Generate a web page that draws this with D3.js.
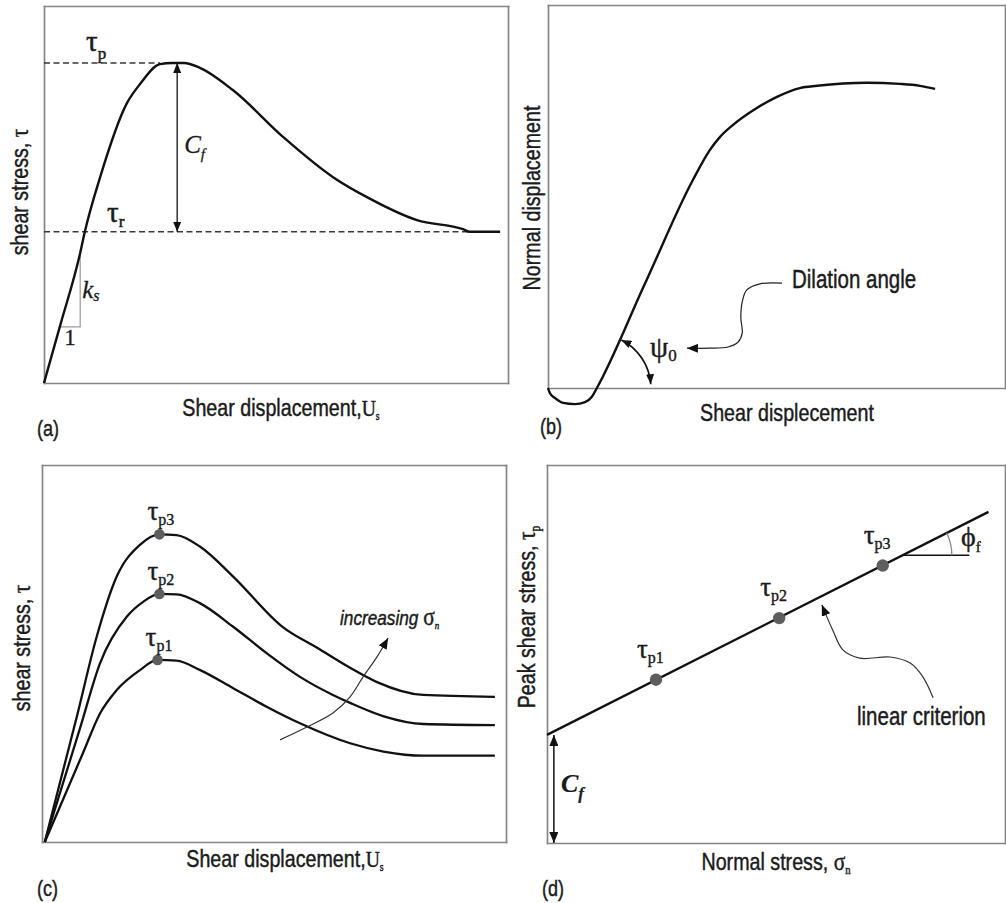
<!DOCTYPE html>
<html>
<head>
<meta charset="utf-8">
<script src="https://cdn.jsdelivr.net/npm/d3@7/dist/d3.min.js"></script>
<style>
  html, body { margin: 0; padding: 0; background: #fff; }
  svg { display: block; }
</style>
</head>
<body>
<svg id="fig" width="1006" height="903"></svg>
<script>
// ---------------------------------------------------------------
// Data (schematic units, 0–100 on both axes of every panel)
// ---------------------------------------------------------------

// (a) shear stress vs shear displacement: [displacement, stress]
const shearCurveA = [[0,0],[3.4,14.9],[7.8,34.5],[8.8,40.1],[12.1,54.6],[17.9,74.3],[20.7,79.3],
  [25.0,84.6],[27.6,84.9],[30.2,84.9],[33.6,83.6],[40.7,77.7],[51.5,65.3],[62.3,54.6],[69.6,49.3],
  [80.4,43.2],[90.3,40.8],[91.8,40.1],[98.3,40.1]];

// (b) normal displacement vs shear displacement
const dilationCurve = [[0,0],[0.4,-1.3],[1.5,-2.6],[3.3,-3.9],[5.9,-4.2],[8.1,-3.7],[9.6,-2.3],
  [10.7,0],[21.2,27.2],[31.7,54.3],[35.4,62.1],[37.6,65.5],[40.5,68.7],[45.7,73.1],[50.1,76.0],
  [55.1,78.3],[58.9,78.9],[69.8,79.7],[77.0,79.4],[81.4,78.9],[84.7,78.1]];

// (c) shear stress curves for three normal stress levels
const stressLow  = [[0.6,0],[8.9,23.8],[12.5,34.1],[16.1,40.3],[21.1,45.6],[24.9,48.3],[29.0,48.1],
  [34.1,45.6],[41.2,40.8],[48.4,35.9],[55.6,31.5],[66.4,26.2],[73.6,24.0],[82.2,22.9],[97.6,22.9]];
const stressMid  = [[0.6,0],[8.2,30.2],[12.5,47.4],[18.3,59.8],[21.8,63.7],[25.3,65.8],[29.0,65.7],
  [34.1,63.3],[41.2,57.1],[48.4,50.1],[55.6,43.8],[62.7,39.0],[66.4,36.9],[73.5,33.4],[82.2,31.3],[97.6,31.0]];
const stressHigh = [[0.6,0],[7.5,33.2],[11.8,54.5],[16.1,70.4],[21.1,78.8],[25.3,81.6],[29.0,81.4],
  [34.1,78.3],[41.2,70.4],[51.9,57.0],[59.3,51.5],[66.4,46.2],[72.2,42.4],[82.1,39.0],[97.6,38.5]];
const peakNames = ["p1", "p2", "p3"];

// (d) peak shear stress vs normal stress
const normalStress = [23.8, 50.7, 73.3];
const peakShear    = [43.2, 59.5, 73.4];
const criterion    = [[0, 28.6], [96.4, 87.6]];

// ---------------------------------------------------------------
// Fonts
// ---------------------------------------------------------------
function hasFont(name) {
  const c = document.createElement("canvas").getContext("2d");
  const probe = "mmmmmmmmmmlli WWW 0123 abcdefg";
  c.font = "40px monospace";
  const w0 = c.measureText(probe).width;
  c.font = `40px "${name}", monospace`;
  const w1 = c.measureText(probe).width;
  return Math.abs(w0 - w1) > 0.5;
}
const NARROW = hasFont("Liberation Sans Narrow");
const SANS = NARROW ? '"Liberation Sans Narrow", "Arial Narrow", sans-serif'
                    : '"Liberation Sans", Arial, sans-serif';
const SX = NARROW ? 1 : 0.82;          // horizontal squeeze when no narrow face exists
const SERIF = '"Liberation Serif", "Times New Roman", serif';
const INK = "#1b1b1b";
const FRAME = "#858585";

const svg = d3.select("#fig");
const defs = svg.append("defs");

function marker(id, len, wid, color) {
  defs.append("marker").attr("id", id)
    .attr("viewBox", `0 0 ${len} ${wid}`)
    .attr("refX", len).attr("refY", wid / 2)
    .attr("markerWidth", len).attr("markerHeight", wid)
    .attr("markerUnits", "userSpaceOnUse")
    .attr("orient", "auto-start-reverse")
    .append("path").attr("d", `M0,0L${len},${wid / 2}L0,${wid}Z`).attr("fill", color);
}
marker("head", 11, 9, "#111");
marker("headSmall", 10, 8, "#111");

function label(parent, x, y, parts, o = {}) {
  const sx = o.squeeze === false ? 1 : SX;
  const t = parent.append("text")
    .attr("text-anchor", o.anchor || "start")
    .attr("fill", o.fill || INK)
    .attr("stroke", o.fill || INK)
    .attr("stroke-width", o.weight != null ? o.weight : 0.45)
    .attr("transform", `translate(${x},${y})` + (o.rotate ? ` rotate(${o.rotate})` : "") +
                       (sx !== 1 ? ` scale(${sx},1)` : ""));
  for (const p of parts) {
    const s = t.append("tspan").text(p.t)
      .attr("font-family", p.serif ? SERIF : SANS)
      .attr("font-size", p.size || 24);
    if (p.italic) s.attr("font-style", "italic");
    if (p.bold) s.attr("font-weight", "bold");
    if (p.dy) s.attr("dy", p.dy);
    if (p.dx) s.attr("dx", p.dx);
  }
  return t;
}

function makePanel(box) {
  const x = d3.scaleLinear().domain([0, 100]).range([box.left, box.right]);
  const y = d3.scaleLinear().domain([0, 100]).range([box.bottom, box.top]);
  const g = svg.append("g");
  return { x, y, g, box };
}

// plain box frame built from four tick-less axes
function frame(p) {
  const { x, y, g, box } = p;
  const axes = [
    [d3.axisBottom(x), `translate(0,${box.bottom})`],
    [d3.axisTop(x),    `translate(0,${box.top})`],
    [d3.axisLeft(y),   `translate(${box.left},0)`],
    [d3.axisRight(y),  `translate(${box.right},0)`]
  ];
  for (const [ax, tr] of axes) {
    g.append("g").attr("transform", tr).attr("color", FRAME)
      .call(ax.tickValues([]).tickSizeOuter(0))
      .select(".domain").attr("stroke-width", 1.7).attr("stroke-linecap", "square");
  }
}

function line(p, curve) {
  return d3.line().x(d => p.x(d[0])).y(d => p.y(d[1])).curve(curve || d3.curveMonotoneX);
}
function curvePath(p, data, w) {
  p.g.append("path").datum(data).attr("d", line(p)).attr("fill", "none")
    .attr("stroke", "#111").attr("stroke-width", w || 2.4).attr("stroke-linejoin", "round");
}

// ---------------------------------------------------------------
// (a)
// ---------------------------------------------------------------
const A = makePanel({ left: 44, top: 6, right: 508, bottom: 383 });
frame(A);
const peakA = d3.greatest(shearCurveA, d => d[1]);
const iPeakA = shearCurveA.indexOf(peakA);
const resA = shearCurveA[shearCurveA.length - 1][1];
const peakReach = shearCurveA.find(d => d[1] >= peakA[1] - 0.5);
const resReach = shearCurveA.find((d, i) => i > iPeakA && d[1] <= resA);

A.g.selectAll("line.ref").data([[peakA[1], peakReach[0]], [resA, resReach[0]]]).join("line")
  .attr("x1", A.x(0)).attr("x2", d => A.x(d[1]))
  .attr("y1", d => A.y(d[0])).attr("y2", d => A.y(d[0]))
  .attr("stroke", "#3a3a3a").attr("stroke-width", 1.4).attr("stroke-dasharray", "6,3.5");

// stiffness triangle under the initial branch
const run = [shearCurveA[1], shearCurveA[2]];
A.g.append("path")
  .attr("d", `M${A.x(run[0][0])},${A.y(run[0][1])}H${A.x(run[1][0])}V${A.y(run[1][1])}`)
  .attr("fill", "none").attr("stroke", "#9a9a9a").attr("stroke-width", 1.2);

curvePath(A, shearCurveA);

const cfX = 28.7;
A.g.append("line")
  .attr("x1", A.x(cfX)).attr("x2", A.x(cfX))
  .attr("y1", A.y(peakA[1])).attr("y2", A.y(resA))
  .attr("stroke", "#111").attr("stroke-width", 1.3)
  .attr("marker-start", "url(#headSmall)").attr("marker-end", "url(#headSmall)");

label(svg, 86, A.y(peakA[1]) - 12, [{ t: "τ", serif: true, size: 29 }, { t: "p", serif: true, size: 17, dy: 8 }], { squeeze: false, weight: 0.5 });
label(svg, 107, A.y(resA) - 10, [{ t: "τ", serif: true, size: 29 }, { t: "r", serif: true, size: 17, dy: 5 }], { squeeze: false, weight: 0.5 });
label(svg, A.x(cfX) + 7, (A.y(peakA[1]) + A.y(resA)) / 2 + 6,
  [{ t: "C", serif: true, italic: true, size: 25 }, { t: "f", serif: true, italic: true, size: 15, dy: 6 }], { squeeze: false, weight: 0.3 });
label(svg, A.x(run[1][0]) + 2, 298,
  [{ t: "k", serif: true, italic: true, size: 25 }, { t: "s", serif: true, italic: true, size: 16, dy: 3 }], { squeeze: false, weight: 0.3 });
label(svg, (A.x(run[0][0]) + A.x(run[1][0])) / 2, 345, [{ t: "1", serif: true, size: 23 }], { anchor: "middle", squeeze: false, weight: 0.3 });

label(svg, 28, 192, [{ t: "shear stress, " }, { t: "τ", serif: true, size: 26 }], { anchor: "middle", rotate: -90 });
label(svg, 281, 416, [{ t: "Shear displacement," }, { t: "U", serif: true, size: 24 }, { t: "s", serif: true, size: 12, dy: 4 }], { anchor: "middle" });
label(svg, 37, 436, [{ t: "(a)", size: 22 }]);

// ---------------------------------------------------------------
// (b)
// ---------------------------------------------------------------
const B = makePanel({ left: 548, top: 5, right: 1005, bottom: 388 });
frame(B);
curvePath(B, dilationCurve);

const cross = dilationCurve.find((d, i) => i > 0 && d[1] === 0);
const arc = d3.path();
arc.arc(B.x(cross[0]), B.y(cross[1]), 54, -63 * Math.PI / 180, -4 * Math.PI / 180, false);
B.g.append("path").attr("d", arc.toString()).attr("fill", "none")
  .attr("stroke", "#111").attr("stroke-width", 1.7)
  .attr("marker-start", "url(#headSmall)").attr("marker-end", "url(#headSmall)");

const dilationPointer = [[51.2,27.4],[46.4,27.2],[43.5,25.6],[42.5,22.5],[42.2,18.3],[42.5,14.4],
  [41.6,12.0],[39.4,10.7],[35.4,10.4],[30.4,10.4]];
B.g.append("path").datum(dilationPointer).attr("d", line(B, d3.curveCatmullRom))
  .attr("fill", "none").attr("stroke", "#222").attr("stroke-width", 1.2)
  .attr("marker-end", "url(#head)");

label(svg, 650, 357, [{ t: "ψ", serif: true, size: 29 }, { t: "0", serif: true, size: 17, dy: 4 }], { squeeze: false, weight: 0.4 });
label(svg, 792, 288, [{ t: "Dilation angle", size: 25 }]);

label(svg, 540, 198, [{ t: "Normal displacement" }], { anchor: "middle", rotate: -90 });
label(svg, 787, 421, [{ t: "Shear displecement" }], { anchor: "middle" });
label(svg, 540, 434, [{ t: "(b)", size: 22 }]);

// ---------------------------------------------------------------
// (c)
// ---------------------------------------------------------------
const C = makePanel({ left: 42, top: 465, right: 506, bottom: 842 });
frame(C);
const familyC = [stressLow, stressMid, stressHigh];
familyC.forEach(s => curvePath(C, s, 2.3));

const increasingArrow = [[51.3,27.1],[57.1,30.5],[62.7,34.2],[66.4,38.5],[69.2,43.8],[72.2,49.1],[74.6,54.1]];
C.g.append("path").datum(increasingArrow).attr("d", line(C, d3.curveCatmullRom))
  .attr("fill", "none").attr("stroke", "#333").attr("stroke-width", 1.2)
  .attr("marker-end", "url(#head)");

const peaksC = familyC.map(s => d3.greatest(s, d => d[1]));
C.g.selectAll("circle").data(peaksC).join("circle")
  .attr("cx", d => C.x(d[0])).attr("cy", d => C.y(d[1])).attr("r", 5.3).attr("fill", "#5e5e5e");
peaksC.forEach((d, i) => {
  label(svg, C.x(d[0]) - 12, C.y(d[1]) - 14,
    [{ t: "τ", serif: true, size: 27 }, { t: peakNames[i], serif: true, size: 16, dy: 5 }], { squeeze: false, weight: 0.4 });
});

label(svg, 340, 625, [{ t: "increasing ", italic: true, size: 21 }, { t: "σ", serif: true, size: 26 },
  { t: "n", serif: true, italic: true, size: 11, dy: 4 }]);

label(svg, 30, 648, [{ t: "shear stress, " }, { t: "τ", serif: true, size: 26 }], { anchor: "middle", rotate: -90 });
label(svg, 285, 867, [{ t: "Shear displacement," }, { t: "U", serif: true, size: 24 }, { t: "s", serif: true, size: 12, dy: 4 }], { anchor: "middle" });
label(svg, 37, 896, [{ t: "(c)", size: 22 }]);

// ---------------------------------------------------------------
// (d)
// ---------------------------------------------------------------
const D = makePanel({ left: 547, top: 465, right: 1005, bottom: 843 });
frame(D);
D.g.append("path").datum(criterion).attr("d", line(D, d3.curveLinear))
  .attr("fill", "none").attr("stroke", "#111").attr("stroke-width", 2.3);

// friction angle construction
const onLine = d3.scaleLinear().domain([criterion[0][0], criterion[1][0]]).range([criterion[0][1], criterion[1][1]]);
const phiX = 77.7, phiY = onLine(phiX);
const phiLen = 14.5;
D.g.append("line")
  .attr("x1", D.x(phiX)).attr("x2", D.x(phiX + phiLen))
  .attr("y1", D.y(phiY)).attr("y2", D.y(phiY))
  .attr("stroke", "#111").attr("stroke-width", 1.5);
const lineAngle = Math.atan2(D.y(criterion[1][1]) - D.y(criterion[0][1]), D.x(criterion[1][0]) - D.x(criterion[0][0]));
const phiArc = d3.path();
phiArc.arc(D.x(phiX), D.y(phiY), 49, lineAngle, 0, false);
D.g.append("path").attr("d", phiArc.toString()).attr("fill", "none")
  .attr("stroke", "#888").attr("stroke-width", 1.3);
label(svg, 961, 546, [{ t: "ϕ", serif: true, size: 28 }, { t: "f", serif: true, size: 15, dy: 6 }], { squeeze: false, weight: 0.4 });

// cohesion arrow
const cfXd = 1.5;
D.g.append("line")
  .attr("x1", D.x(cfXd)).attr("x2", D.x(cfXd))
  .attr("y1", D.y(criterion[0][1])).attr("y2", D.y(0))
  .attr("stroke", "#111").attr("stroke-width", 1.5)
  .attr("marker-start", "url(#head)").attr("marker-end", "url(#head)");
label(svg, 561, 792, [{ t: "C", serif: true, italic: true, bold: true, size: 26 }, { t: "f", serif: true, italic: true, bold: true, size: 17, dy: 7 }], { squeeze: false, weight: 0.2 });

// pointer to the criterion line
const criterionPointer = [[84.3,38.4],[82.1,43.9],[79.3,47.6],[74.9,49.2],[68.3,48.9],[64.6,51.1],[62.4,56.3],[60.0,63.0]];
D.g.append("path").datum(criterionPointer).attr("d", line(D, d3.curveCatmullRom))
  .attr("fill", "none").attr("stroke", "#333").attr("stroke-width", 1.2)
  .attr("marker-end", "url(#head)");
label(svg, 857, 725, [{ t: "linear criterion", size: 25 }]);

const pointsD = normalStress.map((s, i) => [s, peakShear[i]]);
D.g.selectAll("circle").data(pointsD).join("circle")
  .attr("cx", d => D.x(d[0])).attr("cy", d => D.y(d[1])).attr("r", 6.2).attr("fill", "#5e5e5e");
pointsD.forEach((d, i) => {
  label(svg, D.x(d[0]) - 19, D.y(d[1]) - 22,
    [{ t: "τ", serif: true, size: 27 }, { t: peakNames[i], serif: true, size: 16, dy: 5 }], { squeeze: false, weight: 0.4 });
});

label(svg, 535, 617, [{ t: "Peak shear stress, " }, { t: "τ", serif: true, size: 26 }, { t: "p", serif: true, size: 14, dy: 5 }], { anchor: "middle", rotate: -90 });
label(svg, 776, 870, [{ t: "Normal stress, " }, { t: "σ", serif: true, size: 26 }, { t: "n", serif: true, size: 13, dy: 4 }], { anchor: "middle" });
label(svg, 542, 896, [{ t: "(d)", size: 22 }]);
</script>
</body>
</html>
